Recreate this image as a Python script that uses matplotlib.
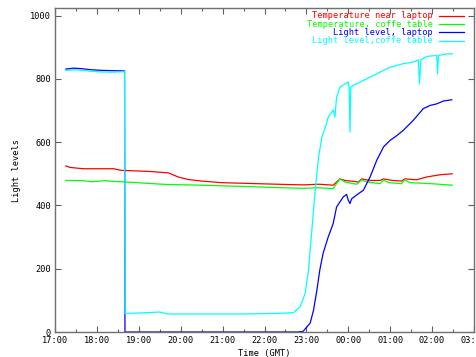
import matplotlib
matplotlib.use('Agg')
import matplotlib.pyplot as plt
from matplotlib.ticker import FixedLocator, FuncFormatter

# times in decimal hours from 00:00 of the first day (24+ = after midnight)
t_red = [17.26, 17.36, 17.68, 18.40, 18.57, 18.97, 19.30, 19.70, 19.94, 20.18,
         20.50, 20.98, 21.77, 22.57, 22.93, 23.30, 23.64, 23.72, 23.80, 23.92,
         24.12, 24.24, 24.32, 24.50, 24.76, 24.84, 25.05, 25.27, 25.35, 25.63,
         25.87, 26.19, 26.48]
temp_laptop = [525, 520, 516, 516, 511, 509, 507, 503, 490, 482,
               477, 472, 469, 466, 465, 467, 464, 474, 484, 479,
               476, 474, 484, 479, 479, 484, 479, 477, 484, 481,
               490, 497, 500]

t_green = [17.26, 17.70, 17.85, 18.20, 18.40, 18.97, 19.30, 19.70, 20.50, 20.98,
           21.77, 22.40, 22.93, 23.30, 23.64, 23.72, 23.80, 23.92, 24.20, 24.32,
           24.44, 24.76, 24.84, 24.96, 25.27, 25.35, 25.47, 25.95, 26.48]
temp_table = [479, 478, 475, 478, 476, 472, 469, 466, 464, 462,
              459, 456, 454, 456, 453, 469, 484, 474, 467, 481,
              474, 469, 481, 472, 469, 481, 472, 469, 464]

t_blue = [17.26, 17.45, 17.65, 17.85, 18.10, 18.35, 18.66, 18.67, 20.00, 22.00,
          22.80, 22.92, 23.09, 23.17, 23.25, 23.32, 23.40, 23.52, 23.64, 23.72,
          23.80, 23.88, 23.96, 24.00, 24.04, 24.08, 24.24, 24.36, 24.52, 24.68,
          24.84, 25.00, 25.16, 25.31, 25.55, 25.79, 25.95, 26.11, 26.27, 26.47]
light_laptop = [831, 834, 832, 829, 827, 826, 825, 0, 0, 0,
                0, 2, 28, 69, 132, 196, 249, 300, 343, 395,
                411, 427, 435, 416, 406, 421, 437, 448, 490, 543,
                585, 606, 621, 637, 669, 706, 716, 721, 730, 734]

t_cyan = [17.26, 17.45, 17.65, 17.85, 18.10, 18.35, 18.66, 18.67, 18.72, 19.00,
          19.50, 19.60, 19.68, 20.50, 21.50, 22.37, 22.69, 22.85, 22.97, 23.05,
          23.13, 23.21, 23.29, 23.37, 23.46, 23.52, 23.64, 23.68, 23.72, 23.80,
          23.92, 24.00, 24.02, 24.04, 24.06, 24.12, 24.36, 24.68, 25.00, 25.31,
          25.55, 25.67, 25.70, 25.73, 25.87, 26.11, 26.13, 26.15, 26.35, 26.48]
light_table = [826, 829, 827, 824, 822, 821, 823, 58, 59, 60,
               63, 60, 57, 57, 57, 59, 61, 80, 122, 196,
               322, 448, 553, 616, 650, 679, 702, 679, 742, 774,
               784, 790, 774, 632, 774, 779, 795, 816, 837, 848,
               853, 860, 784, 860, 871, 874, 816, 874, 879, 879]

hour_ticks = list(range(17, 28))

fig = plt.figure(figsize=(4.77, 3.57), dpi=100)
ax = fig.add_axes([55 / 477, 25 / 357, 419 / 477, 324 / 357])

series = [
    (t_red, temp_laptop, '#ff0000', 'Temperature near laptop'),
    (t_green, temp_table, '#00ff00', 'Temperature, coffe table'),
    (t_blue, light_laptop, '#0000ff', 'Light level, laptop'),
    (t_cyan, light_table, '#00ffff', 'Light level,coffe table'),
]
for t, v, c, lab in series:
    ax.plot(t, v, color=c, lw=0.9)

ax.set_xlim(17, 27)
ax.set_ylim(0, 1024)

mono = 'DejaVu Sans Mono'
fs = 6.2

ax.xaxis.set_major_locator(FixedLocator(hour_ticks))
ax.xaxis.set_minor_locator(FixedLocator([h + 0.5 for h in hour_ticks[:-1]]))
ax.xaxis.set_major_formatter(FuncFormatter(lambda x, p: '%02d:00' % (int(round(x)) % 24)))
ax.yaxis.set_major_locator(FixedLocator([0, 200, 400, 600, 800, 1000]))
ax.tick_params(which='both', direction='in', top=True, right=True,
               color='#606060', labelsize=fs, pad=3)
ax.tick_params(which='major', length=4, width=0.8)
ax.tick_params(which='minor', length=2, width=0.8)
for lbl in ax.get_xticklabels() + ax.get_yticklabels():
    lbl.set_family(mono)
for s in ax.spines.values():
    s.set_color('#707070')
    s.set_linewidth(1)

ax.set_xlabel('Time (GMT)', family=mono, fontsize=fs, labelpad=3)
ax.set_ylabel('Light levels', family=mono, fontsize=fs, labelpad=6)

# gnuplot style key, right aligned text with sample line to its right
for i, (t, v, c, lab) in enumerate(series):
    y = 1 - (8 + 8.2 * i) / 324
    ax.text(378 / 419, y, lab, transform=ax.transAxes, ha='right', va='center',
            color=c, family=mono, fontsize=fs)
    ax.plot([384 / 419, 409 / 419], [y, y], transform=ax.transAxes,
            color=c, lw=0.9, clip_on=False)

fig.savefig('out.png', dpi=100)
